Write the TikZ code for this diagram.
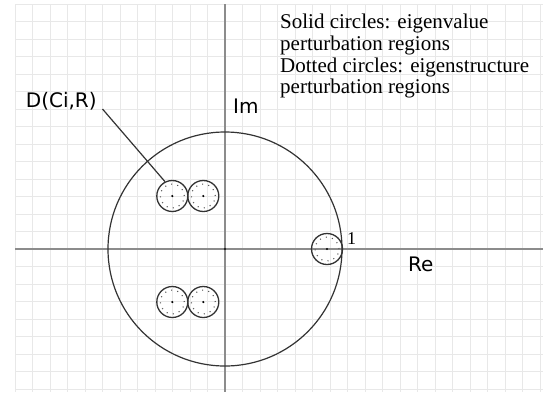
\documentclass[tikz,border=0pt]{standalone}
\usepackage{fontspec}
\setmainfont{Liberation Serif}
\newfontfamily\lblfont{DejaVu Sans}
\begin{document}
\begin{tikzpicture}[x=1pt,y=-1pt,
  gridline/.style={draw=black!9, line width=1pt},
  axisline/.style={draw=black!45, line width=1.4pt},
  unitc/.style={circle, draw=black!80, line width=1.2pt, minimum size=234pt, inner sep=0},
  solidc/.style={circle, draw=black!80, line width=1.3pt, minimum size=31pt, inner sep=0},
  dotc/.style={circle, draw=black!65, line width=1.1pt, dash pattern=on 1pt off 5.3pt, minimum size=24pt, inner sep=0},
  cdot/.style={circle, fill=black, minimum size=2.4pt, inner sep=0},
  sanslbl/.style={inner sep=0, anchor=base west, font=\lblfont\fontsize{20}{24}\selectfont},
  leader/.style={draw=black!80, line width=1.2pt}]
\useasboundingbox (0,0) rectangle (543,392);
\fill[white] (0,0) rectangle (543,392);
% grid
\foreach \i in {0,...,30} \draw[gridline] (15+17.5*\i,4) -- (15+17.5*\i,392);
\foreach \j in {0,...,22} \draw[gridline] (15,4+17.5*\j) -- (543,4+17.5*\j);
% axes
\draw[axisline] (15,249) -- (543,249);
\draw[axisline] (225,4) -- (225,392);
\node[cdot] (o) at (225,249) {};
% unit circle
\node[unitc] (uc) at (225,249) {};
% small circles
\foreach \n/\x/\y in {c1/172.3/196, c2/203.3/196, c3/172.3/302, c4/203.3/302, c5/327/249}{
  \node[solidc] (\n) at (\x,\y) {};
  \node[dotc] (\n d) at (\x,\y) {};
  \node[cdot] (\n c) at (\x,\y) {};
}
% labels
\node[sanslbl] (lbl) at (25.7,107) {D(Ci,R)};
\coordinate (lead) at (102.5,109);
\draw[leader] (lead) -- (c1.117);
\node[sanslbl] (im) at (233,113) {Im};
\node[sanslbl] (re) at (408,271.5) {Re};
\node[inner sep=0, anchor=base west, font=\fontsize{18}{20}\selectfont] (one) at (347,244.5) {1};
\node[anchor=north west, align=left, inner sep=0, font=\fontsize{21}{21.7}\selectfont] (legend) at (280,14)
  {Solid circles: eigenvalue\\perturbation regions\\Dotted circles: eigenstructure\\perturbation regions};
\end{tikzpicture}
\end{document}
